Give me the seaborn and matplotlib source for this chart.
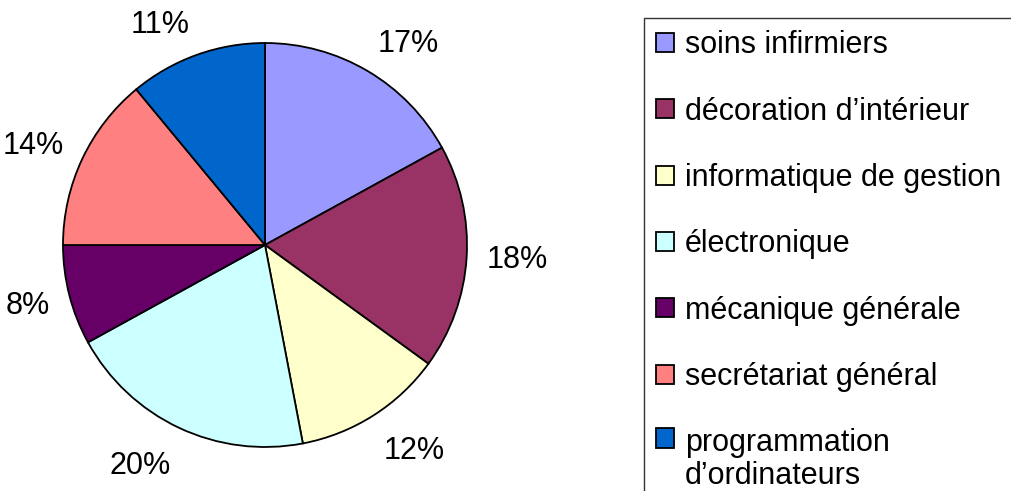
import matplotlib
matplotlib.use("Agg")
import matplotlib.pyplot as plt
import seaborn as sns
from matplotlib.patches import Rectangle

# filières et parts (%)
categories = [
    "soins infirmiers",
    "décoration d\u2019intérieur",
    "informatique de gestion",
    "électronique",
    "mécanique générale",
    "secrétariat général",
    "programmation\nd\u2019ordinateurs",
]
shares = [17, 18, 12, 20, 8, 14, 11]
colors = ["#9999FF", "#993366", "#FFFFCC", "#CCFFFF", "#660066", "#FF8080", "#0066CC"]

sns.set_theme(style="white")
plt.rcParams["font.family"] = ["Liberation Sans", "DejaVu Sans"]
plt.rcParams["text.color"] = "black"

W, H = 1011, 491
cx, cy = 265, 245  # centre du camembert (pixels depuis le coin haut-gauche)

fig = plt.figure(figsize=(W / 100, H / 100), dpi=100)
ax = fig.add_axes([0, 0, 1, 1])

pct_labels = [f"{v}%" for v in shares]
wedges, texts = ax.pie(
    shares,
    labels=pct_labels,
    colors=colors,
    startangle=90,
    counterclock=False,
    radius=202,
    labeldistance=1.1,
    wedgeprops=dict(edgecolor="black", linewidth=1.3),
    textprops=dict(fontsize=22, color="black"),
    frame=True,
)
# décalage vertical façon Excel : la boîte de texte s'écarte du cercle
for t in texts:
    x, y = t.get_position()
    t.set_position((x, y * (1.05 if y > 0 else 1.1)))

ax.set_xlim(-cx, W - cx)
ax.set_ylim(-(H - cy), cy)
ax.set_aspect("equal")
ax.axis("off")

handles = [Rectangle((0, 0), 1, 1, facecolor=c, edgecolor="black", linewidth=1.3) for c in colors]
leg = fig.legend(
    handles,
    categories,
    loc="upper left",
    bbox_to_anchor=(644 / W, 1 - 18 / H),
    borderaxespad=0,
    fontsize=22,
    frameon=True,
    fancybox=False,
    edgecolor="black",
    labelspacing=1.19,
    handlelength=0.59,
    handleheight=0.59,
    handletextpad=0.35,
    borderpad=0.4,
)
leg.get_frame().set_linewidth(1.0)

# marqueur aligné sur la première ligne pour l'entrée sur deux lignes
for col in leg._legend_handle_box.get_children():
    items = col.get_children()
    items[-1].align = "top"
for t in leg.get_texts():
    t.set_linespacing(1.1)

fig.savefig("out.png", dpi=100)
